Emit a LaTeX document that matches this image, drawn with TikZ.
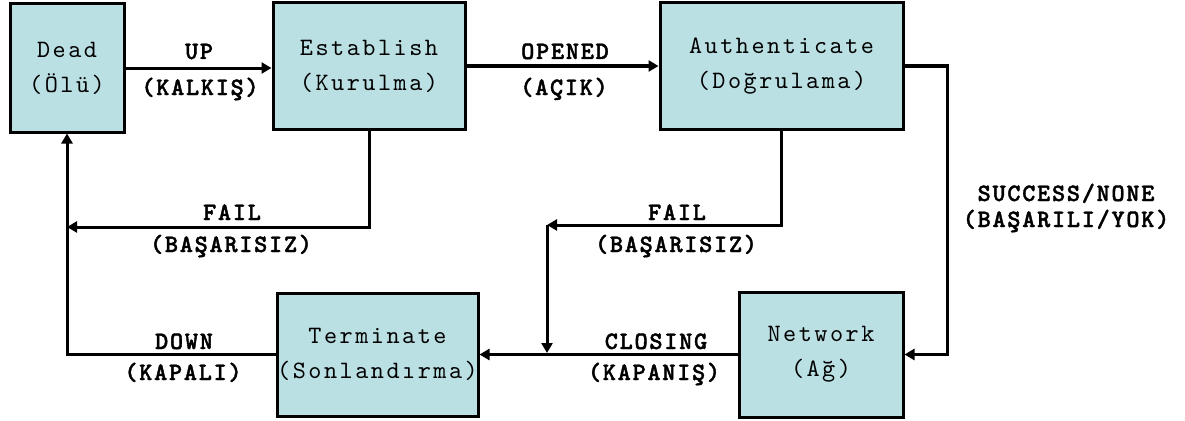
\documentclass[tikz,border=0pt]{standalone}
\usepackage{fontspec}
\usetikzlibrary{arrows.meta}
\newfontfamily\boxfont[LetterSpace=10]{lmmono10-regular.otf}
\newfontfamily\lblfont[LetterSpace=7,FakeBold=1.6]{lmmonolt10-bold.otf}
\definecolor{boxfill}{RGB}{187,224,227}
\begin{document}
\begin{tikzpicture}[x=1pt,y=-1pt,
  state/.style={draw, line width=3pt, fill=boxfill, inner sep=0pt, align=center,
    font=\boxfont\fontsize{25}{35}\selectfont},
  lbl/.style={anchor=base, inner sep=0pt, font=\lblfont\fontsize{25}{28}\selectfont},
  conn/.style={line width=3pt},
  arr/.style={conn, -{Triangle[length=10pt,width=11pt]}}]
\useasboundingbox (0,0) rectangle (1185,420);
% states
\node[state, minimum width=114pt, minimum height=128pt] (dead) at (67,68) {Dead\\(Ölü)};
\node[state, minimum width=192pt, minimum height=126pt] (est) at (369,66) {Establish\\(Kurulma)};
\node[state, minimum width=243pt, minimum height=126pt] (auth) at (781.5,66) {Authenticate\\(Doğrulama)};
\node[state, minimum width=201pt, minimum height=123pt] (term) at (377.5,354.5) {Terminate\\(Sonlandırma)};
\node[state, minimum width=164pt, minimum height=125pt] (net) at (821,354.5) {Network\\(Ağ)};
% helper coordinates
\coordinate (r) at (947,210);
\coordinate (f1) at (67,227);
\coordinate (f2) at (547,225);
\coordinate (f3) at (547,353);
% connectors
\draw[arr] (dead.east) -- (dead.east -| est.west);
\draw[arr] (est.east) -- (auth.west);
\draw[arr] (auth.east) -| (r) |- (net.east);
\draw[arr] (est.south) |- (f1);
\draw[arr] (auth.south) |- (f2);
\draw[arr] (f2) -- (f3);
\draw[arr] (net.west) -- (term.east);
\draw[arr] (term.west) -| (dead.south);
% labels
\node[lbl] (l1a) at (199,59) {UP};
\node[lbl] (l1b) at (200,95) {(KALKIŞ)};
\node[lbl] (l2a) at (565,59) {OPENED};
\node[lbl] (l2b) at (564,95) {(AÇIK)};
\node[lbl] (l3a) at (232,220) {FAIL};
\node[lbl] (l3b) at (231,252) {(BAŞARISIZ)};
\node[lbl] (l4a) at (677,220) {FAIL};
\node[lbl] (l4b) at (676,252) {(BAŞARISIZ)};
\node[lbl] (l5a) at (1066,201) {SUCCESS/NONE};
\node[lbl] (l5b) at (1066,227) {(BAŞARILI/YOK)};
\node[lbl] (l6a) at (184,349) {DOWN};
\node[lbl] (l6b) at (183,380) {(KAPALI)};
\node[lbl] (l7a) at (656,349) {CLOSING};
\node[lbl] (l7b) at (654,380) {(KAPANIŞ)};
\end{tikzpicture}
\end{document}
